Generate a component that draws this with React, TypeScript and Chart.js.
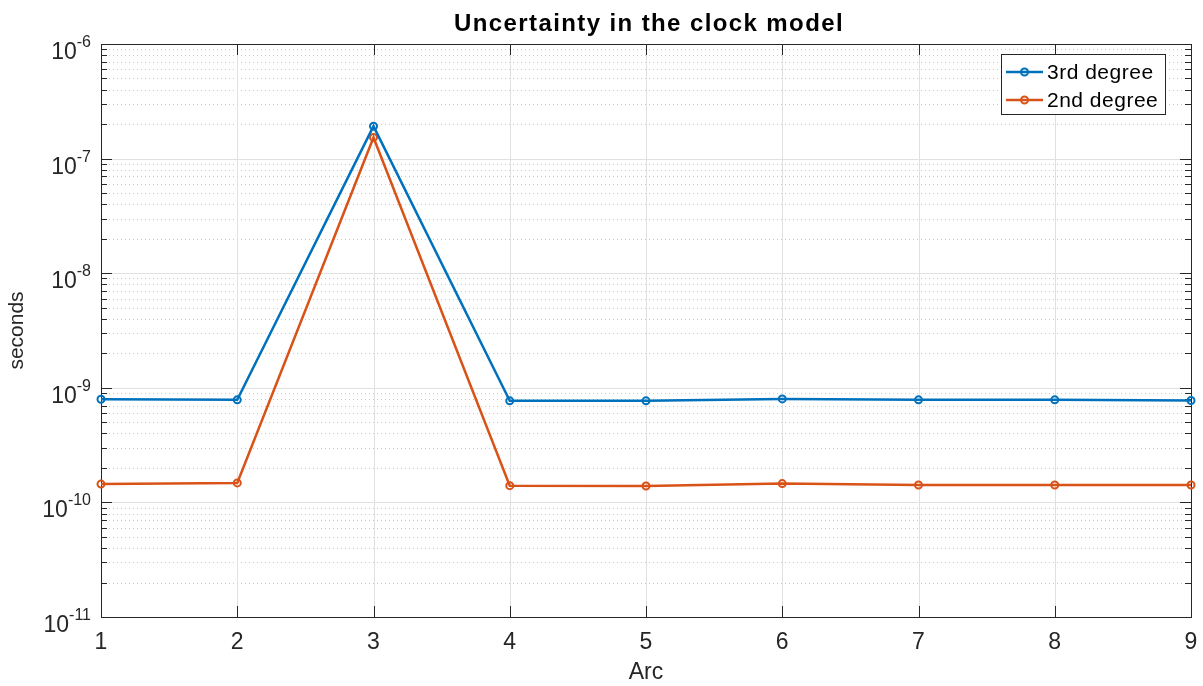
import React, { useEffect, useRef } from "react";
import { Chart, registerables } from "chart.js";

Chart.register(...registerables);

const arcs = [1, 2, 3, 4, 5, 6, 7, 8, 9];
const thirdDegree = [7.94e-10, 7.85e-10, 1.92e-7, 7.7e-10, 7.7e-10, 8.0e-10, 7.85e-10, 7.85e-10, 7.75e-10];
const secondDegree = [1.445e-10, 1.48e-10, 1.53e-7, 1.4e-10, 1.39e-10, 1.46e-10, 1.42e-10, 1.42e-10, 1.42e-10];
const seriesLabels = ["3rd degree", "2nd degree"];
const seriesColors = ["#0072BD", "#D95319"];
const decadeExponents = [-11, -10, -9, -8, -7, -6];
const titleText = "Uncertainty in the clock model";
const xTitle = "Arc";
const yTitle = "seconds";

const FONT = "'Liberation Sans', Arial, Helvetica, sans-serif";
const AXIS = "#262626";

const matlabPlugin = {
  id: "matlabAxes",
  beforeDatasetsDraw(chart: any) {
    const { ctx, chartArea } = chart;
    const { left, right, top, bottom } = chartArea;
    const xs = chart.scales.x;
    const ys = chart.scales.y;
    ctx.save();
    // minor dotted grid
    ctx.strokeStyle = "#c8c8c8";
    ctx.lineWidth = 1;
    ctx.setLineDash([1, 3]);
    for (let i = 0; i < decadeExponents.length - 1; i++) {
      const e = decadeExponents[i];
      for (let m = 2; m <= 9; m++) {
        const y = Math.round(ys.getPixelForValue(m * Math.pow(10, e))) + 0.5;
        ctx.beginPath();
        ctx.moveTo(left, y);
        ctx.lineTo(right, y);
        ctx.stroke();
      }
    }
    ctx.setLineDash([]);
    // major grid
    ctx.strokeStyle = "#e0e0e0";
    for (const e of decadeExponents) {
      const y = Math.round(ys.getPixelForValue(Math.pow(10, e))) + 0.5;
      ctx.beginPath();
      ctx.moveTo(left, y);
      ctx.lineTo(right, y);
      ctx.stroke();
    }
    for (const a of arcs) {
      const x = Math.round(xs.getPixelForValue(a)) + 0.5;
      ctx.beginPath();
      ctx.moveTo(x, top);
      ctx.lineTo(x, bottom);
      ctx.stroke();
    }
    // ticks
    ctx.strokeStyle = AXIS;
    for (const a of arcs) {
      const x = Math.round(xs.getPixelForValue(a)) + 0.5;
      ctx.beginPath();
      ctx.moveTo(x, bottom);
      ctx.lineTo(x, bottom - 11);
      ctx.moveTo(x, top);
      ctx.lineTo(x, top + 11);
      ctx.stroke();
    }
    for (let i = 0; i < decadeExponents.length; i++) {
      const e = decadeExponents[i];
      const maxM = i < decadeExponents.length - 1 ? 9 : 1;
      for (let m = 1; m <= maxM; m++) {
        const len = m === 1 ? 11 : 6;
        const y = Math.round(ys.getPixelForValue(m * Math.pow(10, e))) + 0.5;
        ctx.beginPath();
        ctx.moveTo(left, y);
        ctx.lineTo(left + len, y);
        ctx.moveTo(right, y);
        ctx.lineTo(right - len, y);
        ctx.stroke();
      }
    }
    // box
    ctx.strokeStyle = AXIS;
    ctx.lineWidth = 1;
    ctx.strokeRect(Math.round(left) + 0.5, Math.round(top) + 0.5, Math.round(right - left), Math.round(bottom - top));
    ctx.restore();
  },
  afterDraw(chart: any) {
    const { ctx, chartArea } = chart;
    const ys = chart.scales.y;
    ctx.save();
    // title
    ctx.fillStyle = "#000000";
    ctx.textAlign = "center";
    ctx.textBaseline = "alphabetic";
    ctx.font = `bold 24px ${FONT}`;
    (ctx as any).letterSpacing = "1.4px";
    ctx.fillText(titleText, 649, 30.5);
    (ctx as any).letterSpacing = "0px";
    // y tick labels
    ctx.fillStyle = AXIS;
    ctx.textAlign = "right";
    const rightEdge = chartArea.left - 10;
    for (const e of decadeExponents) {
      const y = ys.getPixelForValue(Math.pow(10, e));
      const expText = String(e);
      ctx.font = `16px ${FONT}`;
      const ew = ctx.measureText(expText).width;
      ctx.fillText(expText, rightEdge, y + 3);
      ctx.font = `23px ${FONT}`;
      ctx.fillText("10", rightEdge - ew, y + 15);
    }
    // legend
    const bx = 1001, by = 54, bw = 164, bh = 60;
    ctx.fillStyle = "#ffffff";
    ctx.fillRect(bx, by, bw, bh);
    ctx.strokeStyle = AXIS;
    ctx.lineWidth = 1;
    ctx.strokeRect(bx + 0.5, by + 0.5, bw, bh);
    const rows = [72, 100];
    for (let i = 0; i < seriesLabels.length; i++) {
      const y = rows[i];
      ctx.strokeStyle = seriesColors[i];
      ctx.lineWidth = 2.5;
      ctx.beginPath();
      ctx.moveTo(1006, y);
      ctx.lineTo(1043, y);
      ctx.stroke();
      ctx.lineWidth = 2;
      ctx.beginPath();
      ctx.arc(1024.5, y, 3.5, 0, Math.PI * 2);
      ctx.stroke();
      ctx.fillStyle = "#000000";
      ctx.textAlign = "left";
      ctx.textBaseline = "middle";
      ctx.font = `21px ${FONT}`;
      (ctx as any).letterSpacing = "0.5px";
      ctx.fillText(seriesLabels[i], 1047, y + 1);
      (ctx as any).letterSpacing = "0px";
    }
    ctx.restore();
  },
};

export default function App() {
  const ref = useRef<HTMLCanvasElement | null>(null);
  useEffect(() => {
    document.body.style.margin = "0";
    const canvas = ref.current;
    if (!canvas) return;
    const mk = (vals: number[]) => arcs.map((a, i) => ({ x: a, y: vals[i] }));
    const ds = (i: number, vals: number[]) => ({
      label: seriesLabels[i],
      data: mk(vals),
      borderColor: seriesColors[i],
      backgroundColor: seriesColors[i],
      borderWidth: 2.5,
      pointRadius: 3.5,
      pointBorderWidth: 2,
      pointBackgroundColor: "rgba(255,255,255,0)",
      pointBorderColor: seriesColors[i],
      clip: false as any,
      tension: 0,
    });
    const chart = new Chart(canvas, {
      type: "line",
      data: {
        datasets: [ds(0, thirdDegree), ds(1, secondDegree)],
      },
      options: {
        animation: false,
        responsive: true,
        maintainAspectRatio: false,
        layout: { padding: { left: 0, right: 12, top: 44, bottom: 0 } },
        plugins: {
          legend: { display: false },
          tooltip: { enabled: false },
          title: { display: false },
        },
        scales: {
          x: {
            type: "linear",
            min: 1,
            max: 9,
            grid: { display: false },
            border: { display: false },
            ticks: {
              stepSize: 1,
              color: AXIS,
              padding: 4,
              font: { family: FONT, size: 23 },
            },
            title: {
              display: true,
              text: xTitle,
              color: AXIS,
              font: { family: FONT, size: 23 },
              padding: { top: 0, bottom: 0 },
            },
            afterFit: (scale: any) => {
              scale.height = 69;
            },
          },
          y: {
            type: "logarithmic",
            min: 1e-11,
            max: 1e-6,
            grid: { display: false },
            border: { display: false },
            ticks: { display: false },
            title: {
              display: true,
              text: yTitle,
              color: AXIS,
              font: { family: FONT, size: 21 },
              padding: { top: 5, bottom: 0 },
            },
            afterFit: (scale: any) => {
              scale.width = 101;
            },
          },
        },
      },
      plugins: [matlabPlugin],
    });
    return () => chart.destroy();
  }, []);
  return (
    <div style={{ width: 1203, height: 686, position: "relative" }}>
      <canvas ref={ref} />
    </div>
  );
}
